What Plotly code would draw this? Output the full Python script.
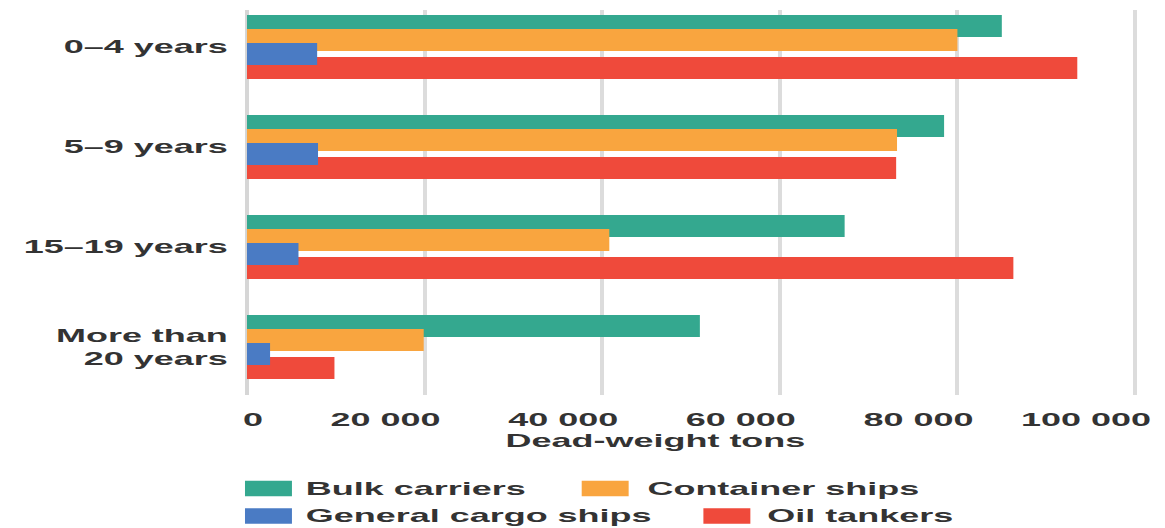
import plotly.graph_objects as go

# Fleet tonnage by age group and ship type
categories = ["0–4 years", "5–9 years", "15–19 years", "More than<br>20 years"]
series_names = ["Bulk carriers", "Container ships", "General cargo ships", "Oil tankers"]
bulk_carriers = [85000, 78500, 67300, 51000]
container_ships = [80000, 73200, 40800, 19900]
general_cargo = [7900, 8000, 5800, 2600]
oil_tankers = [93500, 73100, 86300, 9850]
tick_values = [0, 20000, 40000, 60000, 80000, 100000]
tick_labels = ["0", "20 000", "40 000", "60 000", "80 000", "100 000"]
axis_title = "Dead-weight tons"

colors = ["#34a88f", "#f9a53f", "#4a7bc4", "#ef4a3b"]
values = [bulk_carriers, container_ships, general_cargo, oil_tankers]

# The chart is laid out at half width and stretched horizontally to fill the page.
PAGE_W, H = 1165, 528
W = 583
STRETCH = PAGE_W / W
ML, MR, MT, MB = 119, 11, 10, 133
PW, PH = W - ML - MR, H - MT - MB
FONT = dict(family="Liberation Sans, Arial, sans-serif", size=18, color="#333333",
            weight="bold")


def paper_x(px):
    return (px - ML) / PW


def paper_y(py):
    return (H - MB - py) / PH


# bar placement inside each category band (overlapping bars)
bar_width = 0.22
bar_offsets = [-0.32, -0.18, -0.04, 0.10]

fig = go.Figure()
draw_order = [0, 1, 3, 2]  # general cargo drawn over oil tankers
for i in draw_order:
    fig.add_trace(go.Bar(
        y=categories, x=values[i], name=series_names[i], orientation="h",
        marker=dict(color=colors[i], line=dict(width=0)),
        width=bar_width, offset=bar_offsets[i], showlegend=False,
    ))

# legend drawn as swatches + labels, laid out in two rows
swatch_pos = [(122.6, 488.5), (291.1, 488.5), (122.6, 516.0), (352.0, 516.0)]
label_x = [151.1, 321.8, 151.1, 381.8]
shapes = []
annotations = []
for i, name in enumerate(series_names):
    sx, sy = swatch_pos[i]
    shapes.append(dict(
        type="rect", xref="paper", yref="paper",
        x0=paper_x(sx), x1=paper_x(sx + 23.5),
        y0=paper_y(sy - 7.7), y1=paper_y(sy + 7.7),
        fillcolor=colors[i], line=dict(width=0), layer="above",
    ))
    annotations.append(dict(
        text=name, xref="paper", yref="paper",
        x=paper_x(label_x[i]), y=paper_y(sy), xanchor="left", yanchor="middle",
        showarrow=False, font=FONT,
    ))

annotations.append(dict(
    text=axis_title, xref="paper", yref="paper",
    x=paper_x(328.3), y=paper_y(441), xanchor="center", yanchor="middle",
    showarrow=False, font=FONT,
))

fig.update_layout(
    width=W, height=H,
    margin=dict(l=ML, r=MR, t=MT, b=MB, pad=0),
    paper_bgcolor="white", plot_bgcolor="white",
    barmode="overlay",
    font=FONT,
    shapes=shapes, annotations=annotations,
    xaxis=dict(
        range=[-1035, 100900], tickvals=tick_values, ticktext=tick_labels,
        showgrid=True, gridcolor="#dcdcdc", gridwidth=2,
        zeroline=True, zerolinecolor="#d6d6d6", zerolinewidth=2,
        showline=False, ticks="", ticklabelposition="outside left",
        ticklabelshift=8, ticklabelstandoff=12, tickfont=FONT, automargin=False,
    ),
    yaxis=dict(
        type="category", categoryorder="array", categoryarray=categories,
        range=[3.48, -0.37], showgrid=False, zeroline=False, showline=False,
        ticks="", ticklabelstandoff=4, tickfont=FONT, automargin=False,
    ),
)

post = (
    "document.body.style.margin='0';"
    "var gd=document.getElementById('{plot_id}');"
    "gd.style.transformOrigin='0 0';"
    "gd.style.transform='scaleX(%.5f)';" % STRETCH
)
fig.write_html("out.html", config={"displayModeBar": False}, post_script=post)
